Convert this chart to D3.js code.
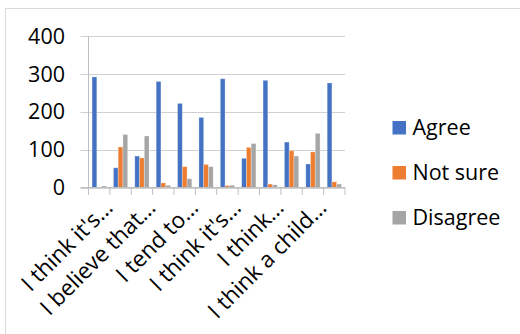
<!DOCTYPE html>
<html>
<head>
<meta charset="utf-8">
<script src="https://cdn.jsdelivr.net/npm/d3@7"></script>
<style>
  html, body { margin: 0; padding: 0; background: #fff; }
  svg { display: block; }
  text { font-family: "Open Sans", sans-serif; fill: #000; }
</style>
</head>
<body>
<svg id="chart" width="520" height="334"></svg>
<script>
// Survey statements (shortened; only every other one is labelled) and response counts
const categories = [
  "I think it's…", "Statement 2", "I believe that…", "Statement 4", "I tend to…", "Statement 6",
  "I think it's…", "Statement 8", "I think…", "Statement 10", "I think a child…", "Statement 12"
];
const seriesNames = ["Agree", "Not sure", "Disagree"];
const agree    = [292, 52, 83, 280, 222, 185, 287, 77, 283, 120, 62, 276];
const notSure  = [1, 107, 78, 12, 55, 61, 5, 106, 9, 97, 94, 15];
const disagree = [4, 140, 136, 6, 23, 55, 6, 116, 7, 83, 143, 9];
const yTicks = [0, 100, 200, 300, 400];
const colors = ["#4472C4", "#ED7D31", "#A5A5A5"];

const values = [agree, notSure, disagree];
const rows = categories.map((c, i) => ({ idx: i, cat: c, vals: values.map(v => v[i]) }));

const svg = d3.select("#chart");

// outer frame
svg.append("rect")
  .attr("x", 5.5).attr("y", 8.5).attr("width", 530).attr("height", 340)
  .attr("fill", "none").attr("stroke", "#d9d9d9").attr("stroke-width", 1);

const plot = { left: 88.5, right: 345, top: 36, bottom: 187.5 };

const x = d3.scaleBand().domain(d3.range(categories.length))
  .range([plot.left, plot.right]).padding(0);
const y = d3.scaleLinear().domain([0, 400]).range([plot.bottom, plot.top]);

// inner scale: 3 bars occupy 3/4.5 of each band (gap width 150%)
const bw = x.bandwidth();
const barW = bw / 4.5;
const xs = d3.scaleBand().domain(d3.range(seriesNames.length))
  .range([0.75 * barW, 0.75 * barW + 3 * barW]).padding(0);

// gridlines
svg.append("g").selectAll("line").data(yTicks).join("line")
  .attr("x1", 80.5).attr("x2", plot.right)
  .attr("y1", d => Math.round(y(d)) + 0.5).attr("y2", d => Math.round(y(d)) + 0.5)
  .attr("stroke", "#d0d0d0").attr("stroke-width", 1.2);

// y axis labels
svg.append("g").selectAll("text").data(yTicks).join("text")
  .attr("x", 65).attr("y", d => y(d))
  .attr("dy", "0.36em")
  .attr("text-anchor", "end")
  .attr("font-size", 21.5)
  .text(d => d);

// vertical axis line
svg.append("line")
  .attr("x1", plot.left).attr("x2", plot.left)
  .attr("y1", plot.top).attr("y2", plot.bottom)
  .attr("stroke", "#bfbfbf").attr("stroke-width", 1);

// bars
const groups = svg.append("g").selectAll("g").data(rows).join("g")
  .attr("transform", d => `translate(${x(d.idx)},0)`);
groups.selectAll("rect").data(d => d.vals.map((v, k) => ({ v, k }))).join("rect")
  .attr("x", d => xs(d.k))
  .attr("width", xs.bandwidth())
  .attr("y", d => y(d.v))
  .attr("height", d => y(0) - y(d.v))
  .attr("fill", d => colors[d.k])
  .attr("stroke", "rgba(255,255,255,0.35)")
  .attr("stroke-width", 0.8);

// category axis
const xAxis = svg.append("g");
xAxis.append("line")
  .attr("x1", 80.5).attr("x2", plot.right)
  .attr("y1", plot.bottom).attr("y2", plot.bottom)
  .attr("stroke", "#bfbfbf").attr("stroke-width", 1.2);
const boundaries = d3.range(categories.length + 1).map(i => plot.left + i * bw);
xAxis.selectAll("line.tick").data(boundaries).join("line")
  .attr("class", "tick")
  .attr("x1", d => d).attr("x2", d => d)
  .attr("y1", plot.bottom).attr("y2", plot.bottom + 7.5)
  .attr("stroke", "#bfbfbf").attr("stroke-width", 1);

// every other category is labelled
xAxis.selectAll("text").data(rows.filter(d => d.idx % 2 === 0)).join("text")
  .attr("transform", d => `translate(${x(d.idx) + bw / 2 + 15},209) rotate(-45)`)
  .attr("text-anchor", "end")
  .attr("font-size", 22.5)
  .text(d => d.cat);

// legend
const legend = svg.append("g").selectAll("g").data(seriesNames).join("g")
  .attr("transform", (d, i) => `translate(392.5,${121 + i * 45})`);
legend.append("rect")
  .attr("width", 13.5).attr("height", 13.5)
  .attr("fill", (d, i) => colors[i]);
legend.append("text")
  .attr("x", 20).attr("y", 13.5)
  .attr("font-size", 21.5)
  .text(d => d);
</script>
</body>
</html>
